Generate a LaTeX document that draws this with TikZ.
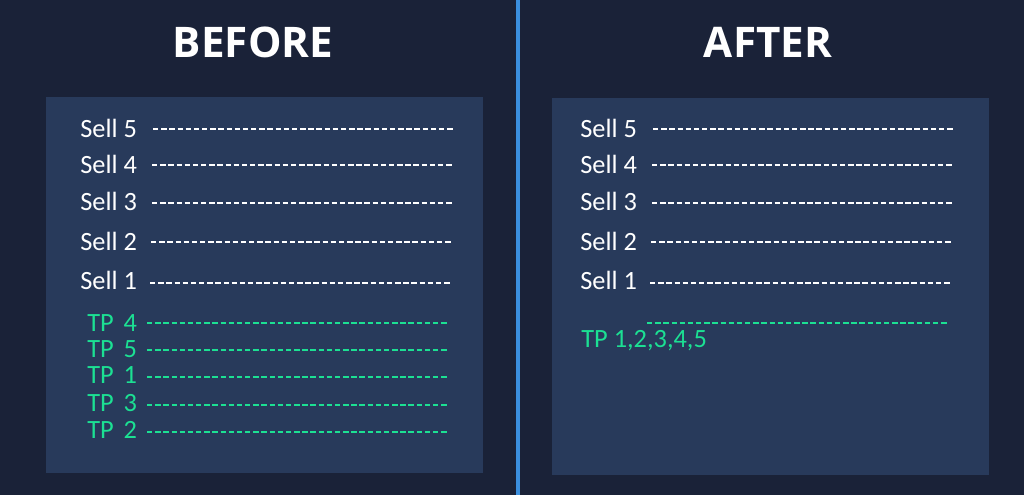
\documentclass[tikz,border=0pt]{standalone}
\usepackage{fontspec}
\setmainfont{Carlito}
\newfontfamily\titlefont{Open Sans}
\usetikzlibrary{positioning}

\definecolor{bgnavy}{HTML}{1A2238}
\definecolor{panelblue}{HTML}{283A5B}
\definecolor{divblue}{HTML}{3B8FDE}
\definecolor{tpgreen}{HTML}{1CE093}

\begin{document}
\begin{tikzpicture}[x=0.02cm,y=-0.02cm]
\tikzstyle{panel}=[fill=panelblue,draw=none]
\tikzstyle{heading}=[text=white,inner sep=0pt,font=\titlefont\bfseries\fontsize{24pt}{28}\selectfont]
\tikzstyle{sell}=[text=white,inner sep=0pt,anchor=base west]
\tikzstyle{tp}=[text=tpgreen,inner sep=0pt,anchor=base west]
\tikzstyle{wdash}=[white,line width=1.4pt,dash pattern=on 3.1pt off 1.55pt]
\tikzstyle{gdash}=[tpgreen,line width=1.4pt,dash pattern=on 3.1pt off 1.55pt]
\tikzset{font=\fontsize{15pt}{18}\selectfont}

        % background
        \fill[bgnavy] (0,0) rectangle (1024,495);
        \useasboundingbox (0,0) rectangle (1024,495);
        \fill[panel] (46,97) rectangle (483,473);
        \fill[panel] (552,98) rectangle (989,475);
        \draw[divblue,line width=2pt] (518,0) -- (518,495);

        \node[heading] (before) at (253,42) {BEFORE};
        \node[heading] (after)  at (768,42) {AFTER};

        % before
        \node[sell] (b5) at (80,137) {Sell 5};
        \node[sell] (b4) at (80,173) {Sell 4};
        \node[sell] (b3) at (80,210) {Sell 3};
        \node[sell] (b2) at (80,250) {Sell 2};
        \node[sell] (b1) at (80,289) {Sell 1};

        \node[tp] (t4) at (87,331) {TP\hspace{0.15em} 4};
        \node[tp] (t5) at (87,357) {TP\hspace{0.15em} 5};
        \node[tp] (t1) at (87,383) {TP\hspace{0.15em} 1};
        \node[tp] (t3) at (87,411) {TP\hspace{0.15em} 3};
        \node[tp] (t2) at (87,438) {TP\hspace{0.15em} 2};

        \draw[wdash] (153,129) coordinate (b5s) -- (455,129) coordinate (b5e);
        \draw[wdash] (152,165) coordinate (b4s) -- (454,165) coordinate (b4e);
        \draw[wdash] (152,203) coordinate (b3s) -- (453,203) coordinate (b3e);
        \draw[wdash] (151,242) coordinate (b2s) -- (452,242) coordinate (b2e);
        \draw[wdash] (150,283) coordinate (b1s) -- (451,283) coordinate (b1e);

        \draw[gdash] (147,323) coordinate (t4s) -- (449,323) coordinate (t4e);
        \draw[gdash] (147,350) coordinate (t5s) -- (449,350) coordinate (t5e);
        \draw[gdash] (147,377) coordinate (t1s) -- (449,377) coordinate (t1e);
        \draw[gdash] (147,405) coordinate (t3s) -- (449,405) coordinate (t3e);
        \draw[gdash] (147,432) coordinate (t2s) -- (449,432) coordinate (t2e);

        % after
        \node[sell] (a5) at (580,137) {Sell 5};
        \node[sell] (a4) at (580,173) {Sell 4};
        \node[sell] (a3) at (580,210) {Sell 3};
        \node[sell] (a2) at (580,250) {Sell 2};
        \node[sell] (a1) at (580,289) {Sell 1};
        \node[tp] (tall) at (581,347) {TP 1,2,3,4,5};

        \draw[wdash] (653,129) coordinate (a5s) -- (955,129) coordinate (a5e);
        \draw[wdash] (652,165) coordinate (a4s) -- (954,165) coordinate (a4e);
        \draw[wdash] (652,203) coordinate (a3s) -- (953,203) coordinate (a3e);
        \draw[wdash] (651,242) coordinate (a2s) -- (952,242) coordinate (a2e);
        \draw[wdash] (650,283) coordinate (a1s) -- (951,283) coordinate (a1e);
        \draw[gdash] (647,323) coordinate (tas) -- (949,323) coordinate (tae);

\end{tikzpicture}
\end{document}
